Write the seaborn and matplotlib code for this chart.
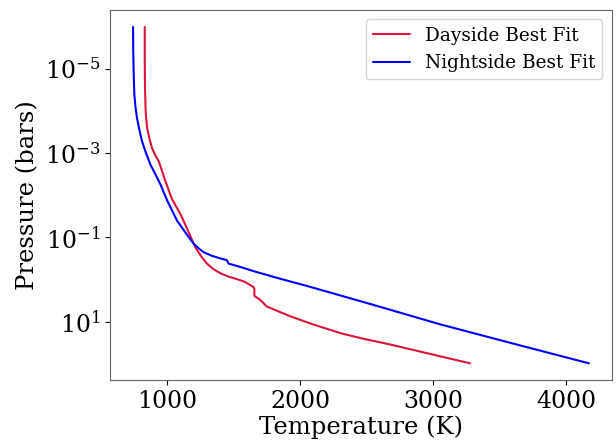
import numpy as np
import matplotlib
matplotlib.use("Agg")
import matplotlib.pyplot as plt
import seaborn as sns

# Dayside best-fit profile (temperature in K, log10 pressure in bars)
day_temp = [830, 830, 832, 835, 840, 848, 865, 885, 910, 935, 960, 985,
            1035, 1098, 1150, 1210, 1255, 1298, 1345, 1398, 1460, 1523,
            1580, 1623, 1645, 1655, 1655, 1698, 1748, 1823, 1923, 2100,
            2310, 2480, 2673, 3048, 3278]
day_logp = [-6.0, -5.2, -4.6, -4.15, -3.85, -3.6, -3.35, -3.12, -2.95, -2.81,
            -2.58, -2.34, -1.91, -1.56, -1.2, -0.77, -0.55, -0.38, -0.25,
            -0.15, -0.07, -0.01, 0.05, 0.13, 0.17, 0.22, 0.39, 0.48, 0.64,
            0.74, 0.87, 1.07, 1.28, 1.41, 1.54, 1.82, 1.99]

# Nightside best-fit profile
night_temp = [742, 743, 745, 748, 752, 760, 772, 790, 810, 840, 873, 910,
              948, 1000, 1073, 1140, 1198, 1240, 1273, 1330, 1390, 1448,
              1460, 1548, 1648, 1848, 2048, 2548, 3048, 3600, 4172]
night_logp = [-6.0, -5.5, -5.16, -4.75, -4.38, -4.1, -3.83, -3.55, -3.28,
              -3.0, -2.73, -2.5, -2.26, -1.87, -1.4, -1.1, -0.85, -0.73,
              -0.65, -0.57, -0.51, -0.46, -0.38, -0.30, -0.20, -0.02, 0.15,
              0.60, 1.06, 1.52, 1.99]


def main() -> None:
    sns.set_style("ticks")
    plt.rcParams["font.family"] = ["DejaVu Serif"]
    plt.rcParams["mathtext.fontset"] = "dejavuserif"
    plt.rcParams["text.color"] = "black"
    plt.rcParams["axes.labelcolor"] = "black"
    plt.rcParams["xtick.color"] = "black"
    plt.rcParams["ytick.color"] = "black"

    fig, ax = plt.subplots(figsize=(6.16, 4.42), dpi=100)
    fig.subplots_adjust(left=0.179, right=0.993, top=0.977, bottom=0.14)

    sns.lineplot(x=day_temp, y=10 ** np.array(day_logp), sort=False,
                 estimator=None, color="crimson", lw=1.5,
                 label="Dayside Best Fit", ax=ax)
    sns.lineplot(x=night_temp, y=10 ** np.array(night_logp), sort=False,
                 estimator=None, color="blue", lw=1.5,
                 label="Nightside Best Fit", ax=ax)

    ax.set_yscale("log")
    ax.invert_yaxis()
    ax.set_yticks([1e-5, 1e-3, 1e-1, 1e1])
    ax.minorticks_off()
    ax.tick_params(labelsize=17)
    ax.set_xlabel("Temperature (K)", fontsize=17.5, labelpad=2)
    ax.set_ylabel("Pressure (bars)", fontsize=17.5)
    for sp in ax.spines.values():
        sp.set_color("0.4")
    ax.legend(loc="upper right", fontsize=13.3)

    fig.savefig("out.png")


if __name__ == "__main__":
    main()
